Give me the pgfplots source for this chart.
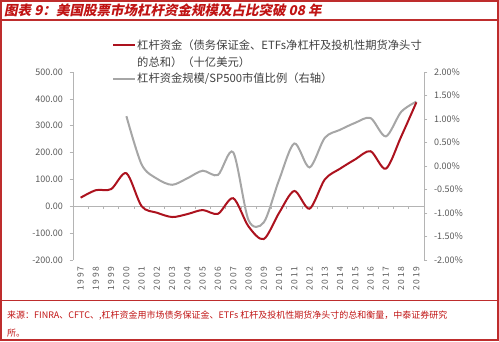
\documentclass[border=0pt]{standalone}
\usepackage{fontspec}
\setmainfont{Noto Sans CJK SC}
\newfontfamily\titlefont[FakeSlant=0.2]{Noto Sans CJK SC}
\newfontfamily\spacedfont[LetterSpace=18]{Noto Sans CJK SC}
\usepackage{pgfplots}
\pgfplotsset{compat=1.18}
\definecolor{redser}{RGB}{172,18,30}
\definecolor{grayser}{RGB}{166,166,166}
\definecolor{axgray}{RGB}{180,180,180}
\definecolor{ticktext}{RGB}{89,89,89}
\definecolor{legtext}{RGB}{64,64,64}
\definecolor{framecol}{RGB}{190,45,45}
\definecolor{titlecol}{RGB}{192,20,20}
\begin{document}
\begin{tikzpicture}[x=1pt,y=1pt]
\useasboundingbox (0,0) rectangle (499,341);
% right axis: ratio
\begin{axis}[
  at={(73pt,81pt)}, anchor=south west,
  width=351pt, height=188pt, scale only axis,
  xmin=1996.5, xmax=2019.5, ymin=-2, ymax=2,
  axis x line=none, axis y line*=right,
  y axis line style={draw=axgray, line width=0.6pt},
  ytick={-2,-1.5,-1,-0.5,0,0.5,1,1.5,2},
  yticklabels={-2.00\%,-1.50\%,-1.00\%,-0.50\%,0.00\%,0.50\%,1.00\%,1.50\%,2.00\%},
  tick align=outside, major tick length=3.5pt,
  major tick style={draw=axgray, line width=0.6pt},
  tick label style={text=ticktext, font=\fontsize{9}{10}\selectfont},
  yticklabel style={xshift=3pt},
  clip=false,
]
\addplot[grayser, line width=2pt, smooth, tension=0.5] coordinates {
(2000,1.06) (2001,0.03) (2002,-0.27) (2003,-0.40) (2004,-0.26) (2005,-0.10)
(2006,-0.19) (2007,0.29) (2008,-1.15) (2009,-1.20) (2010,-0.30) (2011,0.48)
(2012,-0.03) (2013,0.60) (2014,0.77) (2015,0.92) (2016,1.02) (2017,0.63)
(2018,1.15) (2019,1.37)};
\end{axis}
% left axis: leverage funds
\begin{axis}[
  at={(73pt,81pt)}, anchor=south west,
  width=351pt, height=188pt, scale only axis,
  xmin=1996.5, xmax=2019.5, ymin=-200, ymax=500,
  axis x line*=bottom, axis y line*=left,
  x axis line style={draw=none},
  y axis line style={draw=axgray, line width=0.6pt},
  xtick={1997,...,2019},
  xticklabels={1997,1998,1999,2000,2001,2002,2003,2004,2005,2006,2007,2008,2009,2010,2011,2012,2013,2014,2015,2016,2017,2018,2019},
  major x tick style={draw=none},
  x tick label style={rotate=90, anchor=east, font=\spacedfont\fontsize{8.5}{10}\selectfont},
  ytick={-200,-100,0,100,200,300,400,500},
  yticklabels={-200.00,-100.00,0.00,100.00,200.00,300.00,400.00,500.00},
  tick align=outside, major tick length=3.5pt,
  major y tick style={draw=axgray, line width=0.6pt},
  y tick label style={text=ticktext, font=\fontsize{9}{10}\selectfont},
  x tick label style={text=ticktext},
  yticklabel style={xshift=-3pt},
  clip=false,
]
\draw[axgray, line width=0.6pt] (axis cs:1996.5,0) -- (axis cs:2019.5,0);
\pgfplotsinvokeforeach{1996.5,1997.5,...,2019.5}{
  \draw[axgray, line width=0.6pt] (axis cs:#1,0) -- ++(0pt,-3pt);
}
\addplot[redser, line width=2pt, smooth, tension=0.5] coordinates {
(1997,32) (1998,60) (1999,64) (2000,123) (2001,0) (2002,-24) (2003,-40)
(2004,-29) (2005,-14) (2006,-28) (2007,30) (2008,-75) (2009,-122)
(2010,-25) (2011,57) (2012,-9) (2013,100) (2014,140) (2015,175)
(2016,205) (2017,140) (2018,259) (2019,387)};
\end{axis}
% legend
\draw[redser, line width=2pt] (113,295.5) -- (135,295.5);
\node[anchor=west, inner sep=0pt, text=legtext, font=\fontsize{11.3}{13}\selectfont] at (137,295.5) {杠杆资金（债务保证金、ETFs净杠杆及投机性期货净头寸};
\node[anchor=west, inner sep=0pt, text=legtext, font=\fontsize{11.3}{13}\selectfont] at (137,279) {的总和）（十亿美元）};
\draw[grayser, line width=2pt] (113,262) -- (135,262);
\node[anchor=west, inner sep=0pt, text=legtext, font=\fontsize{11.3}{13}\selectfont] at (137,262) {杠杆资金规模/SP500市值比例（右轴）};
% frame
\draw[framecol, line width=1.2pt] (1,1) rectangle (498,340);
\draw[framecol, line width=1.2pt] (1,321) -- (498,321);
\draw[framecol, line width=0.8pt] (1,41) -- (498,41);
\node[anchor=west, inner sep=0pt, text=titlecol, font=\titlefont\bfseries\fontsize{13.5}{15}\selectfont] at (4,331) {图表 9：美国股票市场杠杆资金规模及占比突破 08 年};
\node[anchor=west, inner sep=0pt, text=titlecol, font=\fontsize{9}{10}\selectfont] at (7,25.5) {来源：FINRA、CFTC、,杠杆资金用市场债务保证金、ETFs 杠杆及投机性期货净头寸的总和衡量，中泰证券研究};
\node[anchor=west, inner sep=0pt, text=titlecol, font=\fontsize{9}{10}\selectfont] at (7,8) {所。};
\end{tikzpicture}
\end{document}
